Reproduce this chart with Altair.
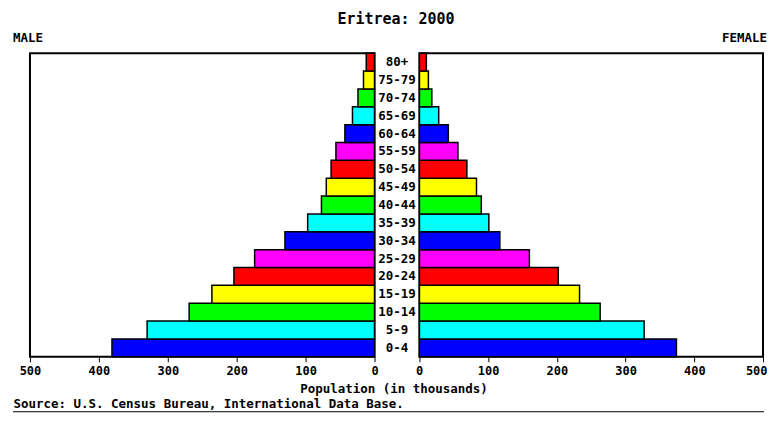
import altair as alt
import pandas as pd

ages = ["0-4", "5-9", "10-14", "15-19", "20-24", "25-29", "30-34", "35-39",
        "40-44", "45-49", "50-54", "55-59", "60-64", "65-69", "70-74", "75-79", "80+"]
male = [381, 330, 269, 236, 204, 174, 130, 97, 77, 70, 63, 56, 43, 32, 24, 16, 12]
female = [374, 327, 263, 233, 202, 160, 117, 101, 90, 83, 69, 56, 42, 28, 18, 13, 10]
tick_values = [0, 100, 200, 300, 400, 500]
chart_title = "Eritrea: 2000"
left_label = "MALE"
right_label = "FEMALE"
x_title = "Population (in thousands)"
source_text = "Source: U.S. Census Bureau, International Data Base."

palette = ["#0000FF", "#00FFFF", "#00FF00", "#FFFF00", "#FF0000", "#FF00FF"]
color_range = [palette[i % len(palette)] for i in range(len(ages))]

df = pd.DataFrame({"age": ages, "male": male, "female": female})
line_df = pd.DataFrame({"k": [0]})

FONT = "DejaVu Sans Mono"

y_enc = alt.Y("age:N", sort=list(reversed(ages)), axis=None,
              scale=alt.Scale(paddingInner=0, paddingOuter=0))
color_enc = alt.Color("age:N", scale=alt.Scale(domain=ages, range=color_range), legend=None)

axis_common = dict(values=tick_values, grid=False, domain=False, tickColor="black",
                   tickSize=5, tickWidth=1, labelFont=FONT, labelFontSize=12,
                   labelFontWeight="bold", labelColor="black",
                   labelPadding=4, titleFont=FONT, titleFontSize=12.5,
                   titleFontWeight="bold", titleColor="black", titleBaseline="middle")

W_L, W_M, W_R, H = 345, 45, 344, 304

left = alt.Chart(df).mark_bar(stroke="black", strokeWidth=1.5).encode(
    x=alt.X("male:Q", scale=alt.Scale(domain=[0, 500], reverse=True, nice=False),
            axis=alt.Axis(title=source_text, titleX=-17, titleY=47, titleAlign="left",
                          labelFlush=False, **axis_common)),
    y=y_enc,
    color=color_enc,
).properties(
    width=W_L, height=H,
    view=alt.ViewBackground(stroke="black", strokeWidth=2),
    title=alt.TitleParams(left_label, anchor="start", frame="group", dx=-17, font=FONT,
                          fontSize=12.5, fontWeight="bold", color="black", offset=8),
)

mid_text = alt.Chart(df).mark_text(font=FONT, fontSize=12.5, fontWeight="bold",
                                   color="black").encode(
    y=y_enc, text="age:N", x=alt.value(W_M / 2)
)
mid_line = alt.Chart(line_df).mark_rule(color="black", strokeWidth=1).encode(
    x=alt.value(-362), x2=alt.value(390), y=alt.value(H + 55)
)
mid = alt.layer(mid_text, mid_line).properties(
    width=W_M, height=H, view=alt.ViewBackground(strokeWidth=0)
)

right = alt.Chart(df).mark_bar(stroke="black", strokeWidth=1.5).encode(
    x=alt.X("female:Q", scale=alt.Scale(domain=[0, 500], nice=False),
            axis=alt.Axis(title=x_title, titleX=-26, titleY=32, titleAlign="center",
                          labelFlush=True, labelFlushOffset=4, **axis_common)),
    y=y_enc,
    color=color_enc,
).properties(
    width=W_R, height=H,
    view=alt.ViewBackground(stroke="black", strokeWidth=2),
    title=alt.TitleParams(right_label, anchor="end", frame="group", dx=4, font=FONT,
                          fontSize=12.5, fontWeight="bold", color="black", offset=8),
)

chart = alt.hconcat(left, mid, right, spacing=0, bounds="flush").properties(
    title=alt.TitleParams(chart_title, anchor="middle", fontSize=15, font=FONT,
                          fontWeight="bold", color="black", offset=4, dx=6),
    padding={"left": 4, "top": 3, "right": 0, "bottom": 0},
    background="white",
).configure_view(stroke="transparent")

chart.save("out.html", embed_options={"renderer": "svg", "actions": False})
